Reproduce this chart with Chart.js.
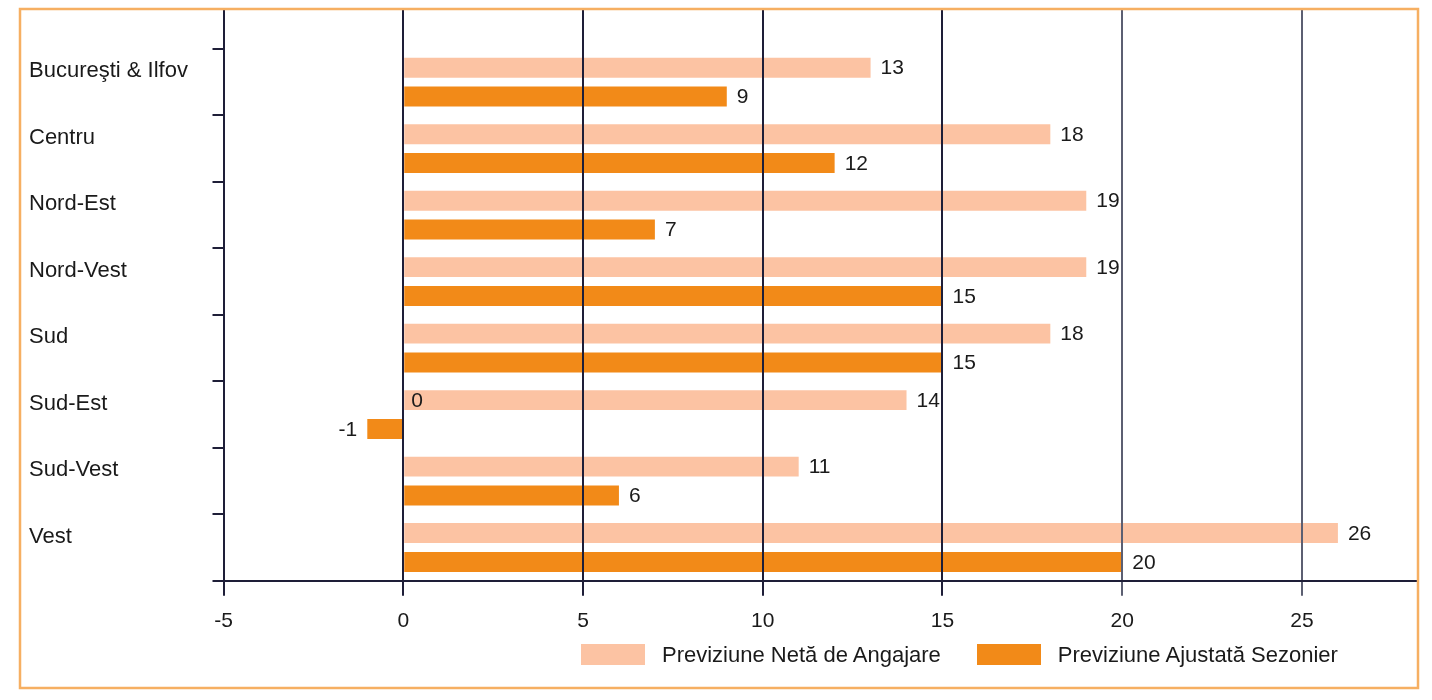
<!DOCTYPE html>
<html><head><meta charset="utf-8">
<script src="https://cdn.jsdelivr.net/npm/chart.js@4.4.1/dist/chart.umd.min.js"></script>
<style>
html,body{margin:0;padding:0;background:#fff;}
#wrap{position:relative;width:1432px;height:700px;}
canvas{display:block;}
#legend{position:absolute;left:581px;top:644px;display:flex;align-items:center;font-family:"Liberation Sans",Arial,sans-serif;font-size:22px;color:#1a1a1a;}
.sw{width:64px;height:21px;margin-right:17px;}
.lt{margin-right:36px;line-height:21px;white-space:nowrap;}
</style></head><body>
<div id="wrap"><canvas id="c" width="1432" height="700"></canvas><div id="legend"></div></div>
<script>
const regions = ['Bucureşti & Ilfov','Centru','Nord-Est','Nord-Vest','Sud','Sud-Est','Sud-Vest','Vest'];
const seriesNames = ['Previziune Netă de Angajare','Previziune Ajustată Sezonier'];
const netValues = [13,18,19,19,18,14,11,26];
const adjValues = [9,12,7,15,15,-1,6,20];
const seriesColors = ['#FCC3A3','#F28A18'];
const xMin = -5, xMax = 28.2, xStep = 5;
// stray "0" label shown in the Sud-Est row of the first series
const extraLabels = [{category:'Sud-Est', series:0, value:0, text:'0'}];

const FONT = '"Liberation Sans", Arial, Helvetica, sans-serif';
const DARK = '#1e1e38';
const TXT = '#1a1a1a';
const yMinVal = -1.1, yMaxVal = regions.length - 0.5;

const toPts = vals => vals.map((v,i)=>({x:v, y:i}));
const noPad = s => { s.paddingTop = 0; s.paddingBottom = 0; };

const valueLabels = {
  id:'valueLabels',
  afterDraw(chart){
    const ctx = chart.ctx;
    ctx.save();
    ctx.font = '21px ' + FONT;
    ctx.fillStyle = TXT;
    ctx.textBaseline = 'middle';
    chart.data.datasets.forEach((ds, di) => {
      chart.getDatasetMeta(di).data.forEach((bar, i) => {
        const v = ds.data[i].x;
        const neg = v < 0;
        ctx.textAlign = neg ? 'right' : 'left';
        ctx.fillText(String(v), bar.x + (neg ? -10 : 10), bar.y + 1);
      });
    });
    extraLabels.forEach(l => {
      const i = regions.indexOf(l.category);
      const bar = chart.getDatasetMeta(l.series).data[i];
      ctx.textAlign = 'left';
      ctx.fillText(l.text, chart.scales.x.getPixelForValue(l.value) + 8, bar.y + 1);
    });
    ctx.restore();
  }
};

const frame = {
  id:'frame',
  afterDraw(chart){
    const ctx = chart.ctx;
    ctx.save();
    ctx.strokeStyle = '#F6AF62';
    ctx.lineWidth = 2.5;
    ctx.strokeRect(20, 9, 1398, 679);
    ctx.restore();
  }
};

const chart = new Chart(document.getElementById('c'), {
  type:'bar',
  data:{ datasets:[
    {label: seriesNames[0], data: toPts(netValues), backgroundColor: seriesColors[0], yAxisID:'y', xAxisID:'x'},
    {label: seriesNames[1], data: toPts(adjValues), backgroundColor: seriesColors[1], yAxisID:'y', xAxisID:'x'}
  ]},
  options:{
    responsive:false, animation:false, indexAxis:'y',
    layout:{padding:{left:29, top:9, right:15, bottom:53}},
    plugins:{legend:{display:false}, tooltip:{enabled:false}},
    datasets:{bar:{categoryPercentage:0.87, barPercentage:0.69}},
    scales:{
      x:{type:'linear', position:'bottom', min:xMin, max:xMax, offset:false,
         ticks:{stepSize:xStep, includeBounds:false, color:TXT, font:{family:FONT, size:21}, padding:13},
         grid:{z:1, offset:false, color: c => (c.tick && c.tick.value >= 20) ? '#5c5f72' : DARK, lineWidth:2, tickLength:15},
         border:{z:2, color:DARK, width:2}},
      y:{type:'linear', position:'left', reverse:true, min:yMinVal, max:yMaxVal, weight:0, offset:false,
         afterBuildTicks: s => { s.ticks = regions.map((_, i)=>({value:i-0.5})).concat([{value:regions.length-0.5}]); },
         afterFit: s => { s.width = 11; noPad(s); },
         ticks:{display:false},
         grid:{offset:false, drawOnChartArea:false, tickLength:11, color:DARK, lineWidth:2},
         border:{color:DARK, width:2}},
      yl:{type:'linear', position:'left', reverse:true, min:yMinVal, max:yMaxVal, weight:1, offset:false,
         afterBuildTicks: s => { s.ticks = regions.map((_, i)=>({value:i})); },
         afterFit: s => { s.width = 183.5; noPad(s); },
         ticks:{crossAlign:'far', autoSkip:false, callback: v => regions[v], labelOffset:-11, color:TXT, font:{family:FONT, size:22}, padding:0},
         grid:{display:false, offset:false}, border:{display:false}}
    }
  },
  plugins:[valueLabels, frame]
});

const leg = document.getElementById('legend');
chart.data.datasets.forEach(ds => {
  const sw = document.createElement('span'); sw.className = 'sw'; sw.style.background = ds.backgroundColor;
  const t = document.createElement('span'); t.className = 'lt'; t.textContent = ds.label;
  leg.appendChild(sw); leg.appendChild(t);
});
</script>
</body></html>
